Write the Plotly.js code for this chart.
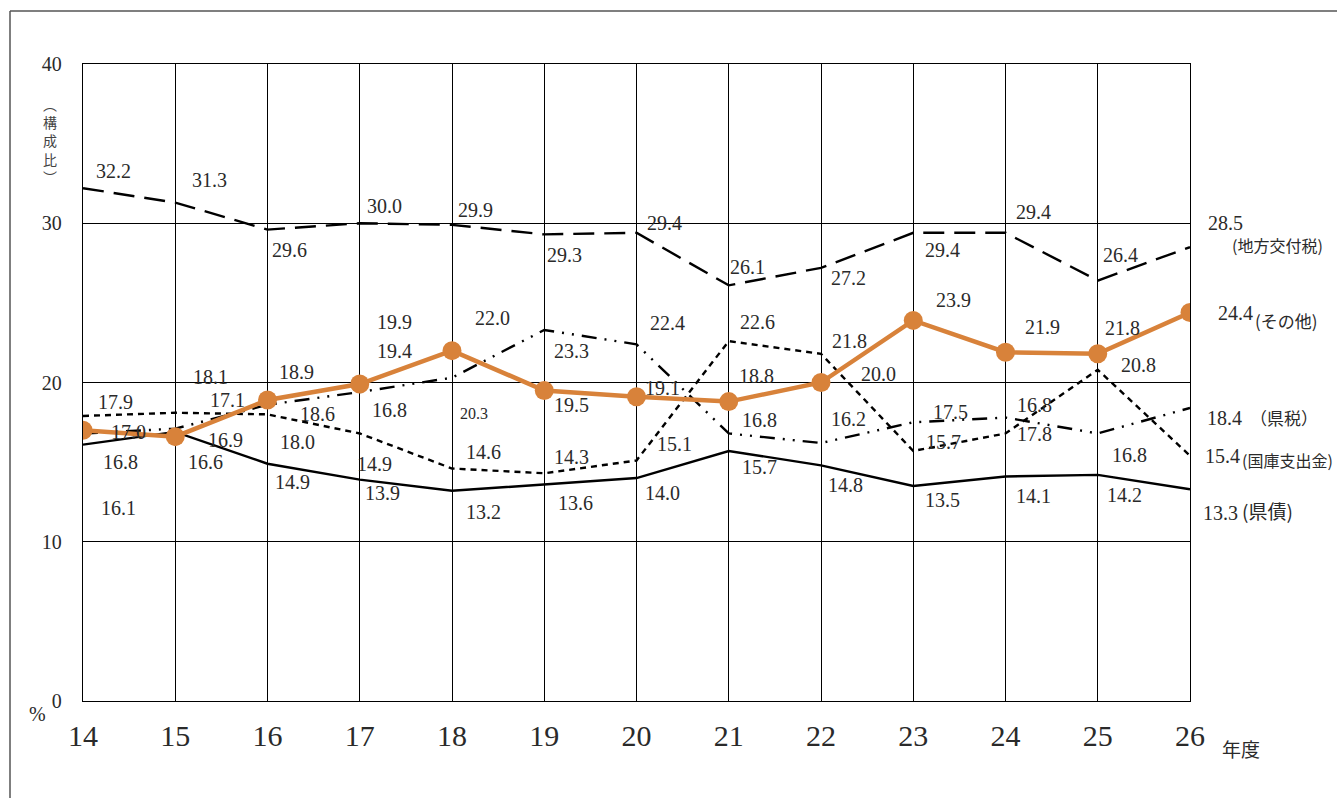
<!DOCTYPE html>
<html>
<head>
<meta charset="utf-8">
<script src="https://cdn.plot.ly/plotly-3.0.1.min.js"></script>
<style>
  html, body { margin: 0; padding: 0; background: #ffffff; }
  #chart { width: 1337px; height: 798px; }
</style>
</head>
<body>
<div id="chart"></div>
<script>
// ---- data ----
const years = [14, 15, 16, 17, 18, 19, 20, 21, 22, 23, 24, 25, 26];
const chihoKofuzei = [32.2, 31.3, 29.6, 30.0, 29.9, 29.3, 29.4, 26.1, 27.2, 29.4, 29.4, 26.4, 28.5];
const sonota      = [17.0, 16.6, 18.9, 19.9, 22.0, 19.5, 19.1, 18.8, 20.0, 23.9, 21.9, 21.8, 24.4];
const kenzei      = [16.8, 17.1, 18.6, 19.4, 20.3, 23.3, 22.4, 16.8, 16.2, 17.5, 17.8, 16.8, 18.4];
const kokko       = [17.9, 18.1, 18.0, 16.8, 14.6, 14.3, 15.1, 22.6, 21.8, 15.7, 16.8, 20.8, 15.4];
const kensai      = [16.1, 16.9, 14.9, 13.9, 13.2, 13.6, 14.0, 15.7, 14.8, 13.5, 14.1, 14.2, 13.3];
const seriesNames = ['(地方交付税)', '(その他)', '（県税）', '(国庫支出金)', '(県債)'];
const yTicks = [0, 10, 20, 30, 40];
const xTickLabels = years.map(String);
const strayLabel = {x: 17, y: 14.9, text: '14.9'};

// ---- styles / label offsets (pixels: dx right, dy down) ----
const NUMFONT = 'Liberation Serif, DejaVu Serif, serif';
const JPFONT = 'Noto Sans CJK JP, Noto Sans, sans-serif';
const TXT = '#2a2a2a';
const ORANGE = '#D8823A';

const offs = {
  chiho: [[30,-17],[34,-23],[22,20],[25,-17],[23,-15],[20,21],[28,-10],[19,-18],[27,10],[29,17],[28,-21],[23,-26],[35,-24]],
  sonota: [[45,2],[30,25],[29,-28],[35,-62],[40,-33],[27,15],[26,-9],[28,-26],[57,-9],[40,-20],[37,-25],[25,-26],[45,1]],
  kenzei: [[37,29],[52,-29],[50,9],[35,-41],[22,36],[27,21],[31,-21],[31,-13],[27,-24],[37,-10],[29,16],[32,22],[34,10]],
  kokko: [[32,-14],[35,-36],[30,28],[30,-23],[31,-17],[27,-16],[38,-17],[29,-19],[28,-13],[30,-9],[29,-28],[41,-5],[32,0]],
  kensai: [[35,63],[50,8],[25,18],[23,13],[31,21],[31,19],[26,15],[31,16],[24,20],[29,14],[28,20],[27,20],[30,24]]
};
const nameOffs = [[40,-2,16],[63,8,17],[58,10,17],[50,4,16],[50,21,19]];

const seriesList = [
  {key: 'chiho', vals: chihoKofuzei},
  {key: 'sonota', vals: sonota},
  {key: 'kenzei', vals: kenzei},
  {key: 'kokko', vals: kokko},
  {key: 'kensai', vals: kensai}
];

const traces = [
  {x: years, y: kokko, mode: 'lines', name: '国庫支出金',
   line: {color: '#000', width: 2.4, dash: '6px,5px'}},
  {x: years, y: kenzei, mode: 'lines', name: '県税',
   line: {color: '#000', width: 2.4, dash: '15px,8px,2px,8px,2px,8px'}},
  {x: years, y: chihoKofuzei, mode: 'lines', name: '地方交付税',
   line: {color: '#000', width: 2.4, dash: '21px,10px'}},
  {x: years, y: kensai, mode: 'lines', name: '県債',
   line: {color: '#000', width: 2.4}},
  {x: years, y: sonota, mode: 'lines+markers', name: 'その他',
   line: {color: ORANGE, width: 4.5},
   marker: {color: ORANGE, size: 19}}
];

const annotations = [];
seriesList.forEach((s, si) => {
  s.vals.forEach((v, i) => {
    const o = offs[s.key][i];
    const small = (s.key === 'kenzei' && i === 4);
    annotations.push({
      x: years[i], y: v, xref: 'x', yref: 'y',
      text: v.toFixed(1), showarrow: false,
      xanchor: 'center', yanchor: 'middle',
      xshift: o[0], yshift: -o[1],
      font: {family: NUMFONT, size: small ? 16 : 20, color: TXT}
    });
  });
  const n = nameOffs[si];
  const last = s.vals.length - 1;
  annotations.push({
    x: years[last], y: s.vals[last], xref: 'x', yref: 'y',
    text: seriesNames[si], showarrow: false,
    xanchor: 'left', yanchor: 'middle',
    xshift: n[0], yshift: -n[1],
    font: {family: JPFONT, size: n[2], color: TXT}
  });
});
annotations.push({
  x: strayLabel.x, y: strayLabel.y, xref: 'x', yref: 'y',
  text: strayLabel.text, showarrow: false, xanchor: 'center', yanchor: 'middle',
  xshift: 15, yshift: 0,
  font: {family: NUMFONT, size: 20, color: TXT}
});
// axis texts
annotations.push({
  xref: 'paper', yref: 'paper', x: (50 - 83) / 1107, y: (701 - 140) / 637,
  text: '︵<br>構<br>成<br>比<br>︶', showarrow: false,
  xanchor: 'center', yanchor: 'middle',
  font: {family: JPFONT, size: 14, color: '#444'}
});
annotations.push({
  xref: 'paper', yref: 'paper', x: (37 - 83) / 1107, y: (701 - 714) / 637,
  text: '%', showarrow: false, xanchor: 'center', yanchor: 'middle',
  font: {family: NUMFONT, size: 20, color: TXT}
});
annotations.push({
  xref: 'paper', yref: 'paper', x: (1241 - 83) / 1107, y: (701 - 748) / 637,
  text: '年度', showarrow: false, xanchor: 'center', yanchor: 'middle',
  font: {family: JPFONT, size: 19, color: TXT}
});

const layout = {
  width: 1337, height: 798,
  margin: {l: 83, r: 147, t: 64, b: 97},
  paper_bgcolor: '#ffffff', plot_bgcolor: '#ffffff',
  showlegend: false,
  xaxis: {
    range: [14, 26], tickvals: years, ticktext: xTickLabels,
    showgrid: true, gridcolor: '#000', gridwidth: 1,
    zeroline: false, showline: true, linecolor: '#000', linewidth: 1.2,
    mirror: true, ticks: '', ticklabelstandoff: 8,
    tickfont: {family: NUMFONT, size: 30, color: TXT}
  },
  yaxis: {
    range: [0, 40], tickvals: yTicks, ticktext: yTicks.map(String),
    showgrid: true, gridcolor: '#000', gridwidth: 1,
    zeroline: false, showline: true, linecolor: '#000', linewidth: 1.2,
    mirror: true, ticks: '', ticklabelstandoff: 16,
    tickfont: {family: NUMFONT, size: 20, color: TXT}
  },
  annotations: annotations,
  shapes: [
    {type: 'line', xref: 'paper', yref: 'paper',
     x0: (10 - 83) / 1107, x1: (10 - 83) / 1107, y0: (701 - 11) / 637, y1: (701 - 805) / 637,
     line: {color: '#555', width: 1.5}},
    {type: 'line', xref: 'paper', yref: 'paper',
     x0: (10 - 83) / 1107, x1: (1345 - 83) / 1107, y0: (701 - 11) / 637, y1: (701 - 11) / 637,
     line: {color: '#555', width: 1.5}}
  ]
};

Plotly.newPlot('chart', traces, layout, {staticPlot: true, displayModeBar: false});
</script>
</body>
</html>
